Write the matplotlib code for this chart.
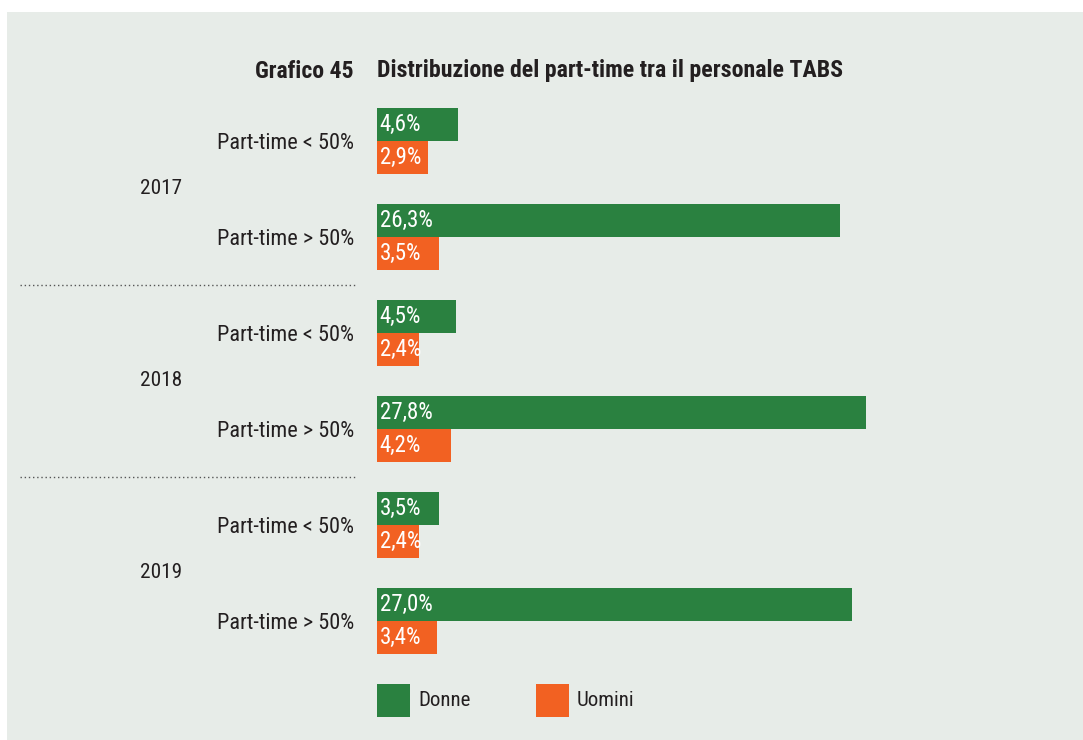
import numpy as np
import matplotlib
matplotlib.use('Agg')
import matplotlib.pyplot as plt
import matplotlib.transforms as mtransforms
from matplotlib.patches import Rectangle
from matplotlib.lines import Line2D

# --- dati ---
anni = ["2017", "2018", "2019"]
categorie = ["Part-time < 50%", "Part-time > 50%"]
donne = [4.6, 26.3, 4.5, 27.8, 3.5, 27.0]
uomini = [2.9, 3.5, 2.4, 4.2, 2.4, 3.4]

VERDE = "#2a8140"
ARANCIO = "#f26122"
SFONDO = "#e7ece8"
TESTO = "#231f20"

plt.rcParams['font.family'] = ['Liberation Sans Narrow', 'Roboto Condensed', 'DejaVu Sans']

W, H = 1083, 740
fig = plt.figure(figsize=(W / 100, H / 100), dpi=100)
fig.patch.set_facecolor("white")
fig.add_artist(Rectangle((7 / W, 0), 1 - 7 / W, 1 - 12 / H, transform=fig.transFigure,
                         facecolor=SFONDO, edgecolor="none", zorder=-10))

# asse: x in percentuale, 17.6 px per punto
x0, px_pct = 377, 17.6
y_top, y_bot = 93, 669
ax = fig.add_axes([x0 / W, 1 - y_bot / H, (W - x0) / W, (y_bot - y_top) / H])
ax.set_facecolor("none")
ax.set_xlim(0, (W - x0) / px_pct)
n = len(donne)
ax.set_ylim(n - 0.5, -0.5)

pos = np.arange(n)
h = 0.34
ax.barh(pos - h / 2, donne, height=h, color=VERDE)
ax.barh(pos + h / 2, uomini, height=h, color=ARANCIO)

fs = 16
for i in range(n):
    ax.text(0.15, i - h / 2, f"{donne[i]:.1f}%".replace(".", ","), color="white",
            va="center", ha="left", fontsize=16.5)
    ax.text(0.15, i + h / 2, f"{uomini[i]:.1f}%".replace(".", ","), color="white",
            va="center", ha="left", fontsize=16.5)

ax.set_yticks(pos, categorie * len(anni))
ax.tick_params(axis="y", length=0, pad=16.5, labelsize=fs, labelcolor=TESTO)
ax.set_xticks([])
for s in ax.spines.values():
    s.set_visible(False)

# etichette anni e separatori
tr = mtransforms.blended_transform_factory(fig.transFigure, ax.transData)
for k, anno in enumerate(anni):
    fig.text(140 / W, 2 * k + 0.5, anno, transform=tr, ha="left", va="center",
             fontsize=15.3, color=TESTO)
for k in range(len(anni) - 1):
    fig.add_artist(Line2D([20 / W, 355 / W], [2 * k + 1.5] * 2, transform=tr,
                          color="#555555", lw=1, linestyle=(0, (1, 2))))

# titolo
fig.text(354 / W, 1 - 71 / H, "Grafico 45", ha="right", va="center",
         fontsize=17, fontweight="bold", color=TESTO)
fig.text(377 / W, 1 - 71 / H, "Distribuzione del part-time tra il personale TABS",
         ha="left", va="center", fontsize=17.2, fontweight="bold", color=TESTO)

# legenda
for xl, col, lab in [(377, VERDE, "Donne"), (536, ARANCIO, "Uomini")]:
    fig.add_artist(Rectangle((xl / W, 1 - 717 / H), 33 / W, 33 / H,
                             transform=fig.transFigure, facecolor=col, edgecolor="none"))
    fig.text((xl + 41) / W, 1 - 701 / H, lab, ha="left", va="center",
             fontsize=15, color=TESTO)

fig.savefig("out.png", dpi=100, facecolor=fig.get_facecolor())
